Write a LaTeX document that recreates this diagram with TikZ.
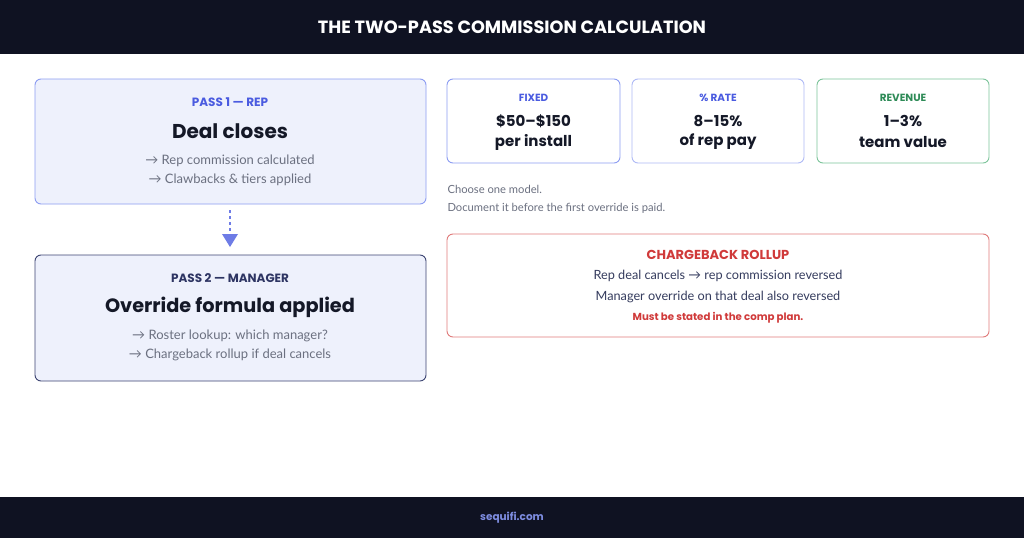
\documentclass[tikz,border=0pt]{standalone}
\usepackage{fontspec}
\setmainfont{Poppins}
\newfontfamily\lato{Lato}
\usetikzlibrary{arrows.meta}
\definecolor{navy}{HTML}{0F1222}
\definecolor{ink}{HTML}{141827}
\definecolor{blueacc}{HTML}{4A5BE0}
\definecolor{bluebd}{HTML}{8C9CF2}
\definecolor{boxfill}{HTML}{EEF1FC}
\definecolor{navybd}{HTML}{3C4472}
\definecolor{navytxt}{HTML}{2E3563}
\definecolor{graytxt}{HTML}{6B7080}
\definecolor{greenacc}{HTML}{2E8B57}
\definecolor{greenbd}{HTML}{7CC49A}
\definecolor{redacc}{HTML}{D03A3A}
\definecolor{redbd}{HTML}{E07A7A}
\definecolor{slate}{HTML}{353C5E}
\definecolor{footlink}{HTML}{7D8CE0}
\tikzset{
  passbox/.style={draw=bluebd, fill=boxfill, line width=0.9pt, rounded corners=6pt},
  smallbox/.style={draw=bluebd, fill=white, line width=0.9pt, rounded corners=6pt},
  lbl/.style={font=\bfseries\fontsize{12}{14}\selectfont, anchor=center},
  tiny/.style={font=\bfseries\fontsize{10.4}{12}\selectfont, anchor=center},
  big/.style={font=\bfseries\fontsize{20}{24}\selectfont, text=ink, anchor=center},
  val/.style={font=\bfseries\fontsize{15}{18}\selectfont, text=ink, anchor=center},
  sub/.style={font=\lato\fontsize{13}{15}\selectfont, text=graytxt, anchor=center},
  note/.style={font=\lato\fontsize{11.2}{13}\selectfont, text=graytxt, anchor=west},
  cb/.style={font=\lato\fontsize{12.7}{15}\selectfont, text=slate, anchor=center},
}
\begin{document}
\begin{tikzpicture}[x=1pt,y=-1pt]
\useasboundingbox (0,0) rectangle (1024,538);
\fill[white] (0,0) rectangle (1024,538);
% header
\fill[navy] (0,0) rectangle (1024,54);
\node[font=\bfseries\fontsize{17.7}{20}\selectfont, text=white] (title) at (512,27) {THE TWO-PASS COMMISSION CALCULATION};
% footer
\fill[navy] (0,497) rectangle (1024,538);
\node[font=\bfseries\fontsize{10.5}{13}\selectfont, text=footlink] (foot) at (512,518) {sequifi.com};
% pass 1
\draw[passbox] (35,79) rectangle (426,204);
\coordinate (p1b) at (230,210);
\node[lbl, text=blueacc] (p1l) at (230,102) {PASS 1 — REP};
\node[big] (p1t) at (230,131) {Deal closes};
\node[sub] (p1a) at (230,161) {→ Rep commission calculated};
\node[sub] (p1c) at (230,180) {→ Clawbacks \& tiers applied};
% arrow
\coordinate (p2t) at (230,247);
\draw[blueacc!80, line width=2.6pt, dash pattern=on 3pt off 3pt] (p1b) -- (230,234);
\fill[blueacc!80] (222,234) -- (238,234) -- (p2t) -- cycle;
% pass 2
\draw[passbox, draw=navybd] (35,255) rectangle (426,381);
\node[lbl, text=navytxt] (p2l) at (230,278) {PASS 2 — MANAGER};
\node[big, font=\bfseries\fontsize{19.3}{23}\selectfont] (p2t2) at (230,307) {Override formula applied};
\node[sub] (p2a) at (230,336) {→ Roster lookup: which manager?};
\node[sub] (p2c) at (230,355) {→ Chargeback rollup if deal cancels};
% small boxes
\draw[smallbox] (447,79) rectangle (620,163);
\node[tiny, text=blueacc] (fl) at (533.5,98) {FIXED};
\node[val] (fv1) at (533.5,121) {\$50–\$150};
\node[val] (fv2) at (533.5,142) {per install};
\draw[smallbox, draw=bluebd!70] (632,79) rectangle (804,163);
\node[tiny, text=blueacc] (rl) at (718,98) {\% RATE};
\node[val] (rv1) at (718,121) {8–15\%};
\node[val] (rv2) at (718,142) {of rep pay};
\draw[smallbox, draw=greenbd] (817,79) rectangle (989,163);
\node[tiny, text=greenacc] (vl) at (903,98) {REVENUE};
\node[val] (vv1) at (903,121) {1–3\%};
\node[val] (vv2) at (903,142) {team value};
% notes
\node[note] (n1) at (444,189) {Choose one model.};
\node[note] (n2) at (444,208) {Document it before the first override is paid.};
% chargeback
\draw[smallbox, draw=redbd] (447,234) rectangle (989,337);
\node[lbl, text=redacc, font=\bfseries\fontsize{13}{15}\selectfont] (cbt) at (718,255) {CHARGEBACK ROLLUP};
\node[cb] (cb1) at (718,276) {Rep deal cancels → rep commission reversed};
\node[cb] (cb2) at (718,297) {Manager override on that deal also reversed};
\node[lbl, text=redacc, font=\bfseries\fontsize{10.2}{12}\selectfont] (cb3) at (718,318) {Must be stated in the comp plan.};
\end{tikzpicture}
\end{document}
